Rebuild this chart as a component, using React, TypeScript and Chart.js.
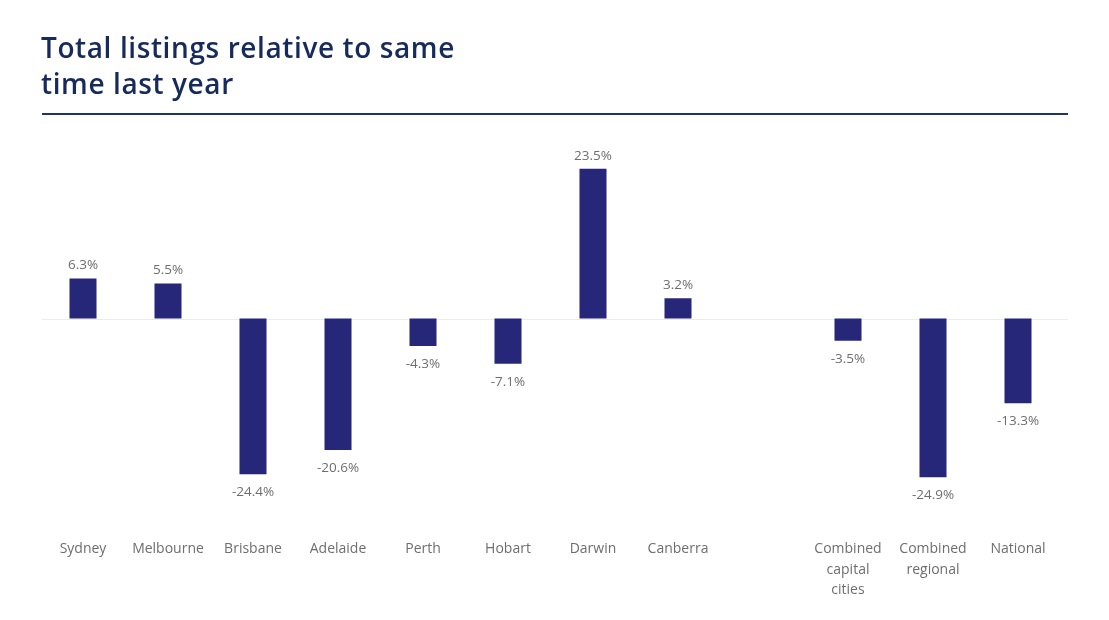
import React, { useEffect, useRef } from "react";
import { Chart, registerables } from "chart.js";

Chart.register(...registerables);

const categories: (string | string[])[] = [
  "Sydney",
  "Melbourne",
  "Brisbane",
  "Adelaide",
  "Perth",
  "Hobart",
  "Darwin",
  "Canberra",
  "",
  ["Combined", "capital", "cities"],
  ["Combined", "regional"],
  "National",
];

const values: (number | null)[] = [6.3, 5.5, -24.4, -20.6, -4.3, -7.1, 23.5, 3.2, null, -3.5, -24.9, -13.3];

const titleLines = ["Total listings relative to same", "time last year"];

const BAR_COLOR = "#27277a";
const LABEL_COLOR = "#6e6e6e";
const FONT = "'Open Sans', 'Noto Sans', sans-serif";

const zeroLinePlugin = {
  id: "zeroLine",
  beforeDatasetsDraw(chart: any) {
    const { ctx, scales } = chart;
    const y = Math.round(scales.y.getPixelForValue(0)) + 0.5;
    ctx.save();
    ctx.strokeStyle = "#ececec";
    ctx.lineWidth = 1;
    ctx.beginPath();
    ctx.moveTo(42, y);
    ctx.lineTo(1068, y);
    ctx.stroke();
    ctx.restore();
  },
};

const valueLabelPlugin = {
  id: "valueLabels",
  afterDatasetsDraw(chart: any) {
    const { ctx } = chart;
    const meta = chart.getDatasetMeta(0);
    ctx.save();
    ctx.font = `500 13.5px ${FONT}`;
    ctx.fillStyle = LABEL_COLOR;
    ctx.textAlign = "center";
    ctx.textBaseline = "middle";
    meta.data.forEach((bar: any, i: number) => {
      const v = values[i];
      if (v === null || v === undefined) return;
      const text = `${v.toFixed(1)}%`;
      if (v >= 0) {
        ctx.fillText(text, bar.x, bar.y - 13);
      } else {
        ctx.fillText(text, bar.x, bar.y + 18);
      }
    });
    ctx.restore();
  },
};

export default function App() {
  const canvasRef = useRef<HTMLCanvasElement | null>(null);

  useEffect(() => {
    document.body.style.margin = "0";
    const canvas = canvasRef.current;
    if (!canvas) return;
    const chart = new Chart(canvas, {
      type: "bar",
      data: {
        labels: categories,
        datasets: [
          {
            data: values,
            backgroundColor: BAR_COLOR,
            borderWidth: 0,
            barPercentage: 0.318,
            categoryPercentage: 1,
          },
        ],
      },
      options: {
        animation: false,
        responsive: false,
        maintainAspectRatio: false,
        layout: {
          padding: { left: 40.5, right: 48.5, top: 140, bottom: 12 },
        },
        plugins: {
          legend: { display: false },
          tooltip: { enabled: false },
          title: { display: false },
        },
        scales: {
          x: {
            grid: { display: false, drawTicks: false },
            border: { display: false },
            ticks: {
              padding: 8,
              color: LABEL_COLOR,
              font: { family: FONT, size: 14, weight: 500, lineHeight: 1.45 },
              maxRotation: 0,
              autoSkip: false,
            },
          },
          y: {
            display: false,
            min: -33.33,
            max: 28,
          },
        },
      },
      plugins: [zeroLinePlugin, valueLabelPlugin],
    });
    return () => chart.destroy();
  }, []);

  return (
    <div style={{ position: "relative", width: 1109, height: 620, background: "#fff", overflow: "hidden" }}>
      <canvas ref={canvasRef} width={1109} height={620} style={{ position: "absolute", left: 0, top: 0 }} />
      <div
        style={{
          position: "absolute",
          left: 41,
          top: 29,
          fontFamily: FONT,
          fontWeight: 600,
          fontSize: 28,
          lineHeight: "36px",
          color: "#172a5c",
          letterSpacing: "0.6px",
        }}
      >
        {titleLines.map((l, i) => (
          <div key={i}>{l}</div>
        ))}
      </div>
      <div
        style={{
          position: "absolute",
          left: 42,
          top: 113,
          width: 1026,
          height: 2,
          background: "#1f3568",
        }}
      />
    </div>
  );
}
